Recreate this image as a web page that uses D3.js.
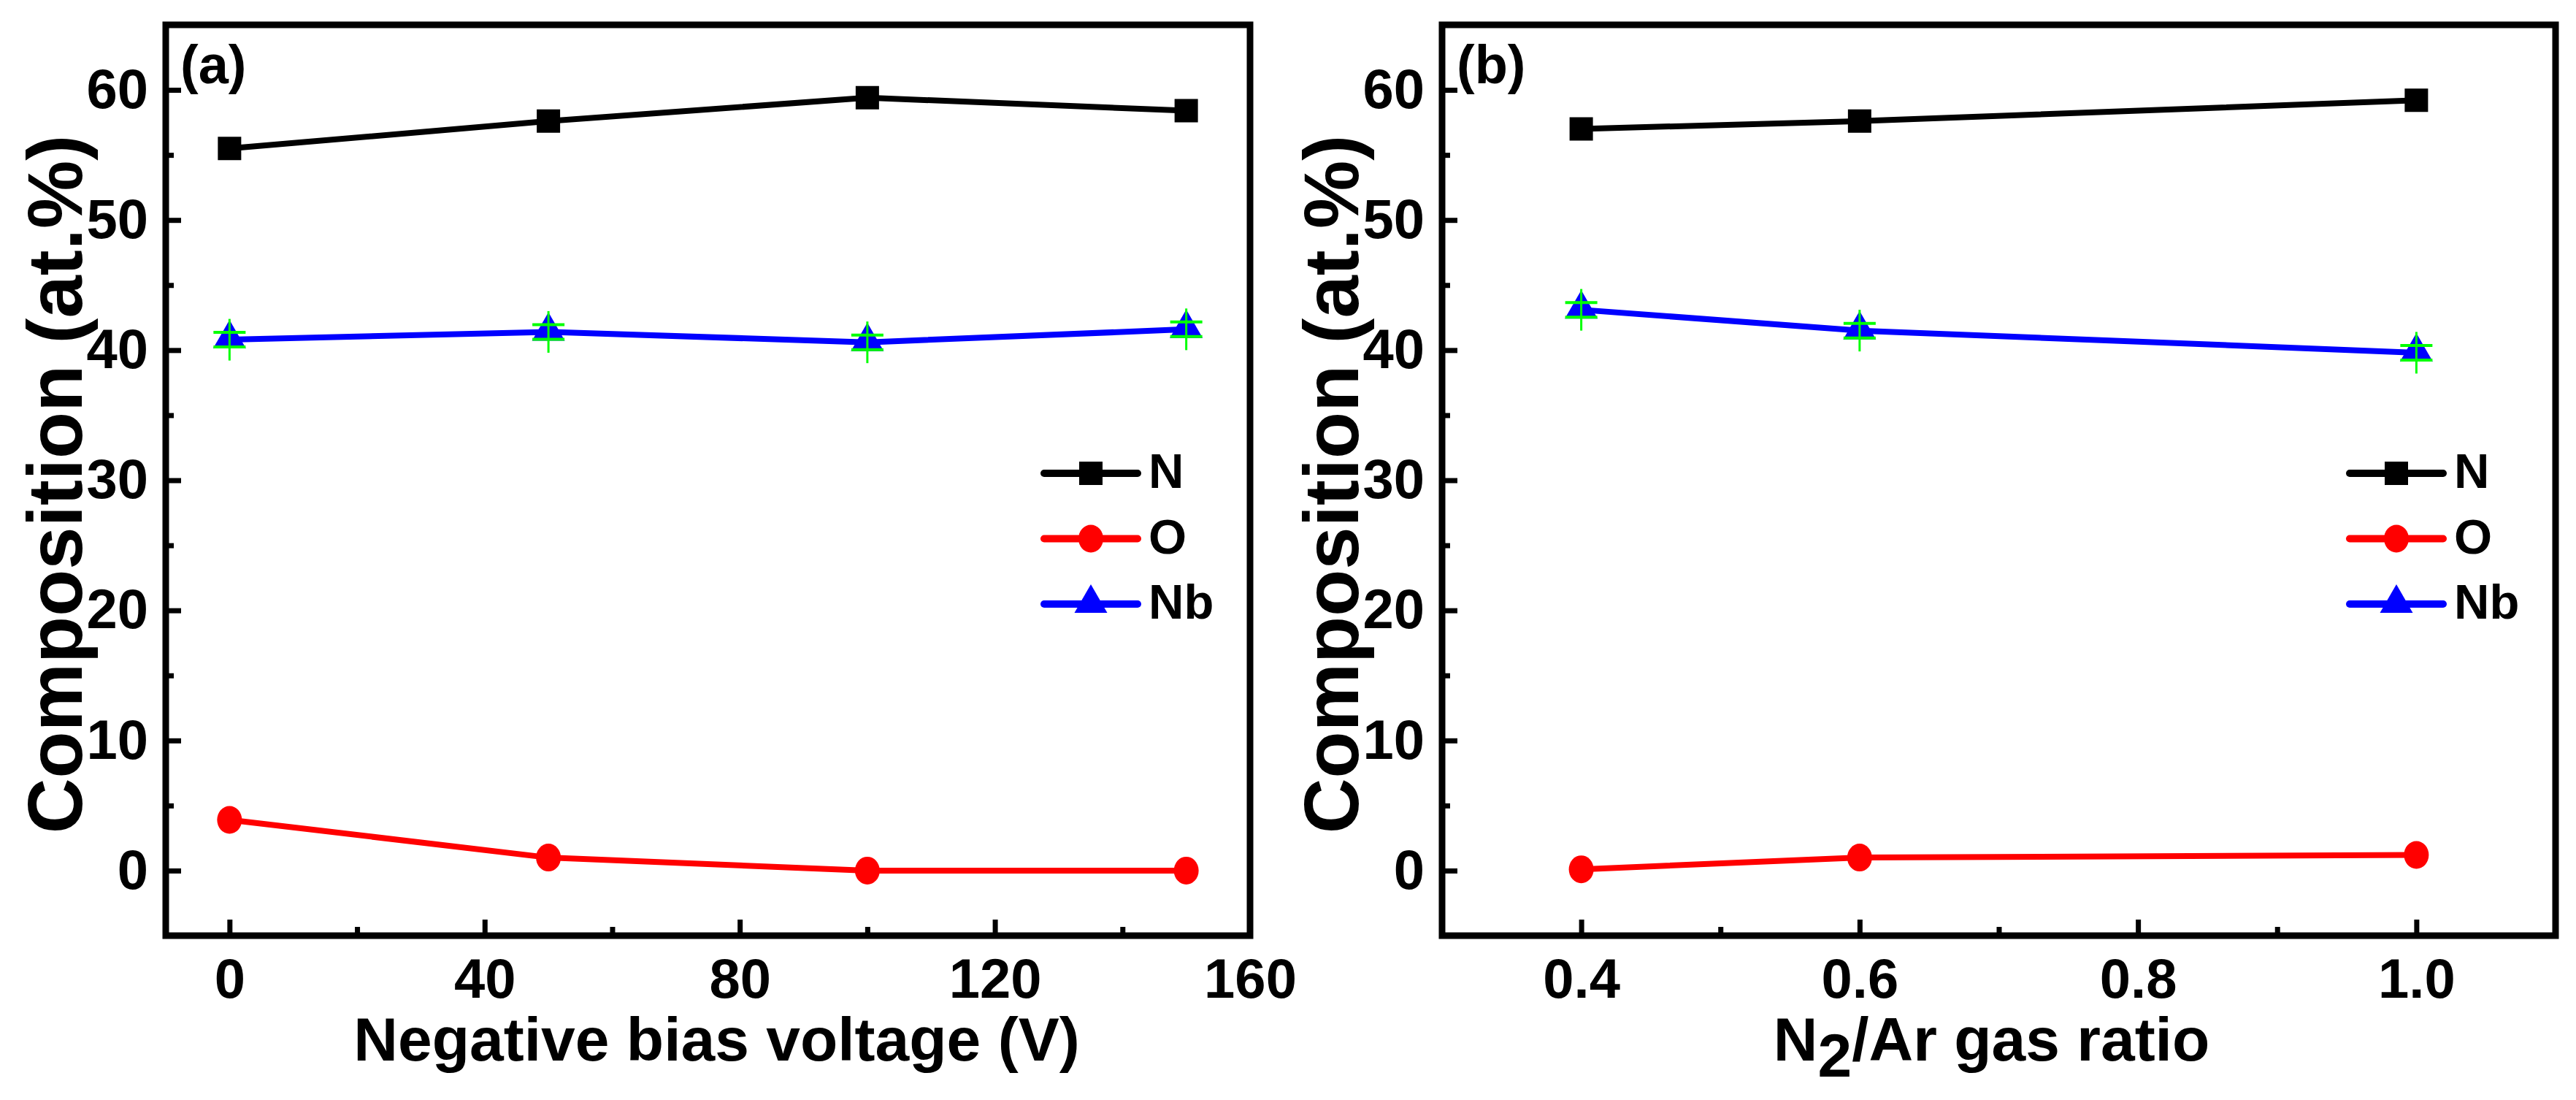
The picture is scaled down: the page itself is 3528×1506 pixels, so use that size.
<!DOCTYPE html>
<html>
<head>
<meta charset="utf-8">
<script src="https://cdn.jsdelivr.net/npm/d3@7"></script>
<style>
    html, body { margin: 0; padding: 0; background: #fff; }
    svg text { font-family: "Liberation Sans", Arial, sans-serif; font-weight: bold; }
</style>
</head>
<body>
<svg id="chart" width="3528" height="1506"></svg>
<script>
// Data
var biasVoltage = [0, 50, 100, 150];
var biasN  = [55.5, 57.6, 59.4, 58.4];
var biasO  = [3.9, 1.0, 0.0, 0.0];
var biasNb = [40.8, 41.4, 40.6, 41.6];
var biasNbErr = [1.6, 1.6, 1.6, 1.6];

var gasRatio = [0.4, 0.6, 1.0];
var gasN  = [57.0, 57.6, 59.2];
var gasO  = [0.1, 1.0, 1.2];
var gasNb = [43.1, 41.5, 39.8];
var gasNbErr = [1.6, 1.6, 1.6];

var yMajorTicks = [0, 10, 20, 30, 40, 50, 60];
var yMinorTicks = [5, 15, 25, 35, 45, 55];
var biasMajorTicks = [0, 40, 80, 120, 160];
var biasMinorTicks = [20, 60, 100, 140];
var gasMajorTicks = [0.4, 0.6, 0.8, 1.0];
var gasMinorTicks = [0.5, 0.7, 0.9];

var seriesNames = ['N', 'O', 'Nb'];
var COLORS = { N: '#000000', O: '#FF0000', Nb: '#0000FF', err: '#00FF00' };

var svg = d3.select('#chart');
var TOP = 34, BOTTOM = 1281;

// marker shapes centred on (0,0)
function markerPath(name) {
    if (name === 'N') return 'M-16,-16H16V16H-16Z';
    if (name === 'Nb') return 'M0,-27L22.5,12L-22.5,12Z';
    return null;
}

function drawMarker(g, name, x, y) {
    if (name === 'O') {
        g.append('ellipse').attr('cx', x).attr('cy', y).attr('rx', 17).attr('ry', 19)
            .attr('fill', COLORS.O);
    } else {
        g.append('path').attr('d', markerPath(name))
            .attr('transform', 'translate(' + x + ',' + y + ')')
            .attr('fill', COLORS[name]);
    }
}

// 1. One panel: frame, axes, series, legend
function drawPanel(p) {
    var x = d3.scaleLinear().domain(p.xDomain).range([p.left, p.right]);
    var y = d3.scaleLinear().domain([-5, 65]).range([BOTTOM, TOP]);
    var g = svg.append('g');

    // minor ticks
    g.append('g').attr('transform', 'translate(' + p.left + ',0)')
        .call(d3.axisLeft(y).tickValues(yMinorTicks).tickSize(-11).tickFormat(''));
    g.append('g').attr('transform', 'translate(0,' + BOTTOM + ')')
        .call(d3.axisBottom(x).tickValues(p.xMinor).tickSize(-12).tickFormat(''));

    // major ticks + labels
    var yAx = g.append('g').attr('transform', 'translate(' + p.left + ',0)')
        .call(d3.axisLeft(y).tickValues(yMajorTicks).tickSize(-21).tickPadding(24));
    var xAx = g.append('g').attr('transform', 'translate(0,' + BOTTOM + ')')
        .call(d3.axisBottom(x).tickValues(p.xMajor).tickSize(-22).tickPadding(31).tickFormat(p.fmt));

    g.selectAll('.domain').remove();
    g.selectAll('.tick line').attr('stroke', '#000').attr('stroke-width', 7);
    [yAx, xAx].forEach(function(a) {
        a.selectAll('text').attr('font-size', 76).attr('fill', '#000')
            .attr('font-family', '"Liberation Sans", Arial, sans-serif').attr('font-weight', 'bold');
    });

    // frame
    g.append('rect').attr('x', p.left).attr('y', TOP)
        .attr('width', p.right - p.left).attr('height', BOTTOM - TOP)
        .attr('fill', 'none').attr('stroke', '#000').attr('stroke-width', 9);

    // lines
    var line = d3.line().x(function(d) { return x(d[0]); }).y(function(d) { return y(d[1]); });
    seriesNames.forEach(function(name) {
        var pts = p.xs.map(function(v, i) { return [v, p.data[name][i]]; });
        g.append('path').datum(pts).attr('d', line)
            .attr('fill', 'none').attr('stroke', COLORS[name]).attr('stroke-width', 8);
    });

    // markers
    seriesNames.forEach(function(name) {
        p.xs.forEach(function(v, i) { drawMarker(g, name, x(v), y(p.data[name][i])); });
    });

    // green error bars on Nb
    p.xs.forEach(function(v, i) {
        var cx = x(v), cy = y(p.data.Nb[i]), e = p.nbErr[i];
        g.append('line').attr('x1', cx).attr('x2', cx)
            .attr('y1', y(p.data.Nb[i] + e)).attr('y2', y(p.data.Nb[i] - e))
            .attr('stroke', COLORS.err).attr('stroke-width', 3);
        [-10, 10].forEach(function(off) {
            g.append('line').attr('x1', cx - 22).attr('x2', cx + 22)
                .attr('y1', cy + off).attr('y2', cy + off)
                .attr('stroke', COLORS.err).attr('stroke-width', 4);
        });
    });

    // panel tag
    g.append('text').attr('x', p.left + 20).attr('y', 114)
        .attr('font-size', 74).text(p.tag);

    // axis titles
    g.append('text').attr('transform', 'translate(' + (p.left - 115) + ',663) rotate(-90)')
        .attr('text-anchor', 'middle').attr('font-size', 105).text('Composition (at.%)');
    var xt = g.append('text').attr('x', (p.left + p.right) / 2 + p.titleShift).attr('y', 1452)
        .attr('text-anchor', 'middle').attr('font-size', 84);
    p.title.forEach(function(part) {
        xt.append('tspan').attr('dy', part.dy || 0).text(part.t);
    });

    // legend
    var lx = p.right - 282;
    seriesNames.forEach(function(name, i) {
        var ly = 648 + i * 89.5;
        g.append('line').attr('x1', lx).attr('x2', lx + 128).attr('y1', ly).attr('y2', ly)
            .attr('stroke', COLORS[name]).attr('stroke-width', 10).attr('stroke-linecap', 'round');
        drawMarker(g, name, lx + 64, ly);
        g.append('text').attr('x', lx + 143).attr('y', ly + 20)
            .attr('font-size', 67).text(name);
    });
}

drawPanel({
    left: 227, right: 1712, xDomain: [-10, 160],
    xMajor: biasMajorTicks, xMinor: biasMinorTicks, fmt: d3.format('d'),
    xs: biasVoltage, data: { N: biasN, O: biasO, Nb: biasNb }, nbErr: biasNbErr,
    tag: '(a)', titleShift: 12,
    title: [{ t: 'Negative bias voltage (V)' }]
});

drawPanel({
    left: 1975, right: 3500, xDomain: [0.3, 1.1],
    xMajor: gasMajorTicks, xMinor: gasMinorTicks, fmt: d3.format('.1f'),
    xs: gasRatio, data: { N: gasN, O: gasO, Nb: gasNb }, nbErr: gasNbErr,
    tag: '(b)', titleShift: -10,
    title: [{ t: 'N' }, { t: '2', dy: 22 }, { t: '/Ar gas ratio', dy: -22 }]
});
</script>
</body>
</html>
